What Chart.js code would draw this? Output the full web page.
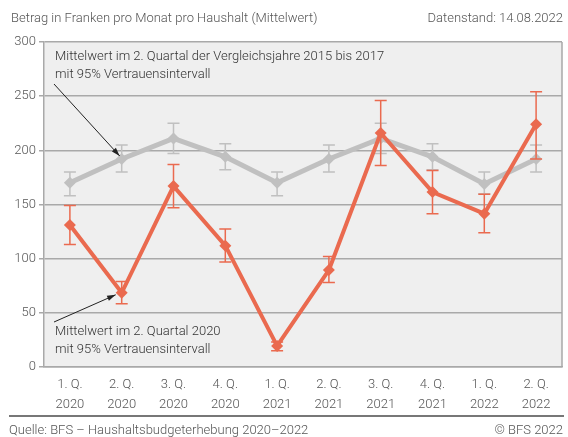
<!DOCTYPE html>
<html>
<head>
<meta charset="utf-8">
<script src="https://cdn.jsdelivr.net/npm/chart.js@4/dist/chart.umd.min.js"></script>
<style>
  html, body { margin: 0; padding: 0; background: #fff; }
  body { width: 568px; height: 437px; position: relative; overflow: hidden; font-family: Roboto, "Noto Sans", sans-serif; font-weight: 300; color: #555; font-size: 13px; }
  #wrap { position: absolute; left: 0; top: 0; width: 568px; height: 437px; }
  .txt { position: absolute; white-space: nowrap; line-height: 16px; }
  #sep { position: absolute; left: 9px; width: 555px; top: 415px; height: 2px; background: #777; }
</style>
</head>
<body>
<div id="wrap"><canvas id="chart" width="568" height="437"></canvas></div>
<div class="txt" style="left:11px; top:10px;">Betrag in Franken pro Monat pro Haushalt (Mittelwert)</div>
<div class="txt" style="right:5px; top:10px;">Datenstand: 14.08.2022</div>
<div id="sep"></div>
<div class="txt" style="left:9px; top:422px;">Quelle: BFS – Haushaltsbudgeterhebung 2020–2022</div>
<div class="txt" style="right:5px; top:422px;">© BFS 2022</div>
<script>
// Quartale
const quarters = ["1. Q.", "2. Q.", "3. Q.", "4. Q.", "1. Q.", "2. Q.", "3. Q.", "4. Q.", "1. Q.", "2. Q."];
const years = ["2020", "2020", "2020", "2020", "2021", "2021", "2021", "2021", "2022", "2022"];

// Mittelwert 2. Quartal 2020 (mit 95% Vertrauensintervall)
const mean2020 = [131, 68.5, 167, 112, 19.5, 89.5, 216, 161.5, 141.5, 224];
const low2020 = [113, 58.5, 147, 97, 15, 78, 186, 141.5, 124, 192];
const high2020 = [149, 79, 187, 127.5, 23, 102, 246, 181.5, 159.5, 254];

// Vergleichsjahre 2015 bis 2017
const meanRef = [170, 192, 211, 194, 170, 192, 211, 194, 169, 192];
const lowRef = [158, 180, 197, 182, 158, 180, 197, 182, 160, 180];
const highRef = [180, 205, 225, 206, 180, 205, 225, 206, 180, 205];

const yTicks = [0, 50, 100, 150, 200, 250, 300];

const labels = quarters.map((q, i) => [q, years[i]]);

const orange = "#ea6a4f";
const grey = "#c0c0c0";

// Hintergrund + Rahmen der Plotfläche
const plotBg = {
  id: "plotBg",
  beforeDraw(chart) {
    const { ctx, chartArea: a } = chart;
    ctx.save();
    ctx.fillStyle = "#efefef";
    ctx.fillRect(a.left, a.top, a.right - a.left, a.bottom - a.top);
    ctx.restore();
  },
  afterDraw(chart) {
    const { ctx, chartArea: a } = chart;
    ctx.save();
    ctx.strokeStyle = "#a9a9a9";
    ctx.lineWidth = 1.5;
    ctx.beginPath();
    ctx.moveTo(a.right, a.top);
    ctx.lineTo(a.right, a.bottom);
    ctx.stroke();
    ctx.restore();
  }
};

// Fehlerbalken (Vertrauensintervall)
const errorBars = {
  id: "errorBars",
  beforeDatasetDraw(chart, args) {
    const ds = chart.data.datasets[args.index];
    if (!ds.low) return;
    const ctx = chart.ctx;
    const y = chart.scales.y;
    ctx.save();
    ctx.strokeStyle = ds.borderColor;
    ctx.lineWidth = 1.5;
    args.meta.data.forEach((pt, i) => {
      const yl = y.getPixelForValue(ds.low[i]);
      const yh = y.getPixelForValue(ds.high[i]);
      ctx.beginPath();
      ctx.moveTo(pt.x, yl);
      ctx.lineTo(pt.x, yh);
      ctx.moveTo(pt.x - 6, yl);
      ctx.lineTo(pt.x + 6, yl);
      ctx.moveTo(pt.x - 6, yh);
      ctx.lineTo(pt.x + 6, yh);
      ctx.stroke();
    });
    ctx.restore();
  }
};

function arrow(ctx, x1, y1, x2, y2) {
  const ang = Math.atan2(y2 - y1, x2 - x1);
  ctx.beginPath();
  ctx.moveTo(x1, y1);
  ctx.lineTo(x2, y2);
  ctx.stroke();
  ctx.beginPath();
  ctx.moveTo(x2, y2);
  ctx.lineTo(x2 - 9 * Math.cos(ang - 0.3), y2 - 9 * Math.sin(ang - 0.3));
  ctx.lineTo(x2 - 9 * Math.cos(ang + 0.3), y2 - 9 * Math.sin(ang + 0.3));
  ctx.closePath();
  ctx.fill();
}

// Beschriftungen im Diagramm
const notes = {
  id: "notes",
  afterDatasetsDraw(chart) {
    const { ctx, chartArea: a } = chart;
    const x = chart.scales.x, y = chart.scales.y;
    ctx.save();
    ctx.font = "300 13px Roboto";
    ctx.fillStyle = "#333";
    ctx.textBaseline = "middle";
    ctx.fillText("Mittelwert im 2. Quartal der Vergleichsjahre 2015 bis 2017", a.left + 11, a.top + 15);
    ctx.fillText("mit 95% Vertrauensintervall", a.left + 11, a.top + 33);
    ctx.fillText("Mittelwert im 2. Quartal 2020", a.left + 11, a.bottom - 35);
    ctx.fillText("mit 95% Vertrauensintervall", a.left + 11, a.bottom - 17);

    ctx.strokeStyle = "#222";
    ctx.fillStyle = "#222";
    ctx.lineWidth = 1;
    const gx = x.getPixelForValue(1), gy = y.getPixelForValue(meanRef[1]);
    arrow(ctx, a.left + 10, a.top + 42, gx - 2, gy - 3);
    const ox = x.getPixelForValue(1), oy = y.getPixelForValue(mean2020[1]);
    arrow(ctx, a.left + 10, a.bottom - 45, ox - 6, oy + 2);
    ctx.restore();
  }
};

Chart.defaults.font.family = "Roboto";
Chart.defaults.font.size = 13;
Chart.defaults.font.weight = 300;
Chart.defaults.color = "#555";

new Chart(document.getElementById("chart"), {
  type: "line",
  data: {
    labels: labels,
    datasets: [
      {
        label: "2. Quartal 2020",
        data: mean2020,
        low: low2020,
        high: high2020,
        borderColor: orange,
        backgroundColor: orange,
        borderWidth: 4,
        pointStyle: "rectRot",
        pointRadius: 6,
        pointBorderWidth: 0,
        tension: 0
      },
      {
        label: "Vergleichsjahre 2015 bis 2017",
        data: meanRef,
        low: lowRef,
        high: highRef,
        borderColor: grey,
        backgroundColor: grey,
        borderWidth: 5,
        pointStyle: "rectRot",
        pointRadius: 6,
        pointBorderWidth: 0,
        tension: 0
      }
    ]
  },
  options: {
    responsive: false,
    animation: false,
    layout: { padding: { left: 0, right: 5, top: 42, bottom: 25 } },
    plugins: {
      legend: { display: false },
      tooltip: { enabled: false }
    },
    scales: {
      x: {
        offset: true,
        grid: { display: false, drawTicks: false },
        border: { color: "#a9a9a9", width: 1.5 },
        ticks: { padding: 8, maxRotation: 0, autoSkip: false, color: "#555", font: { lineHeight: 1.5 } },
        afterFit(s) { s.height = 45; }
      },
      y: {
        min: 0,
        max: 300,
        afterBuildTicks(s) { s.ticks = yTicks.map(v => ({ value: v })); },
        grid: { color: "#a9a9a9", lineWidth: 1.5, tickLength: 5, drawTicks: true },
        border: { color: "#a9a9a9", width: 1.5 },
        ticks: { padding: 3, color: "#555" },
        afterFit(s) { s.width = 44; }
      }
    }
  },
  plugins: [plotBg, errorBars, notes]
});
</script>
</body>
</html>
